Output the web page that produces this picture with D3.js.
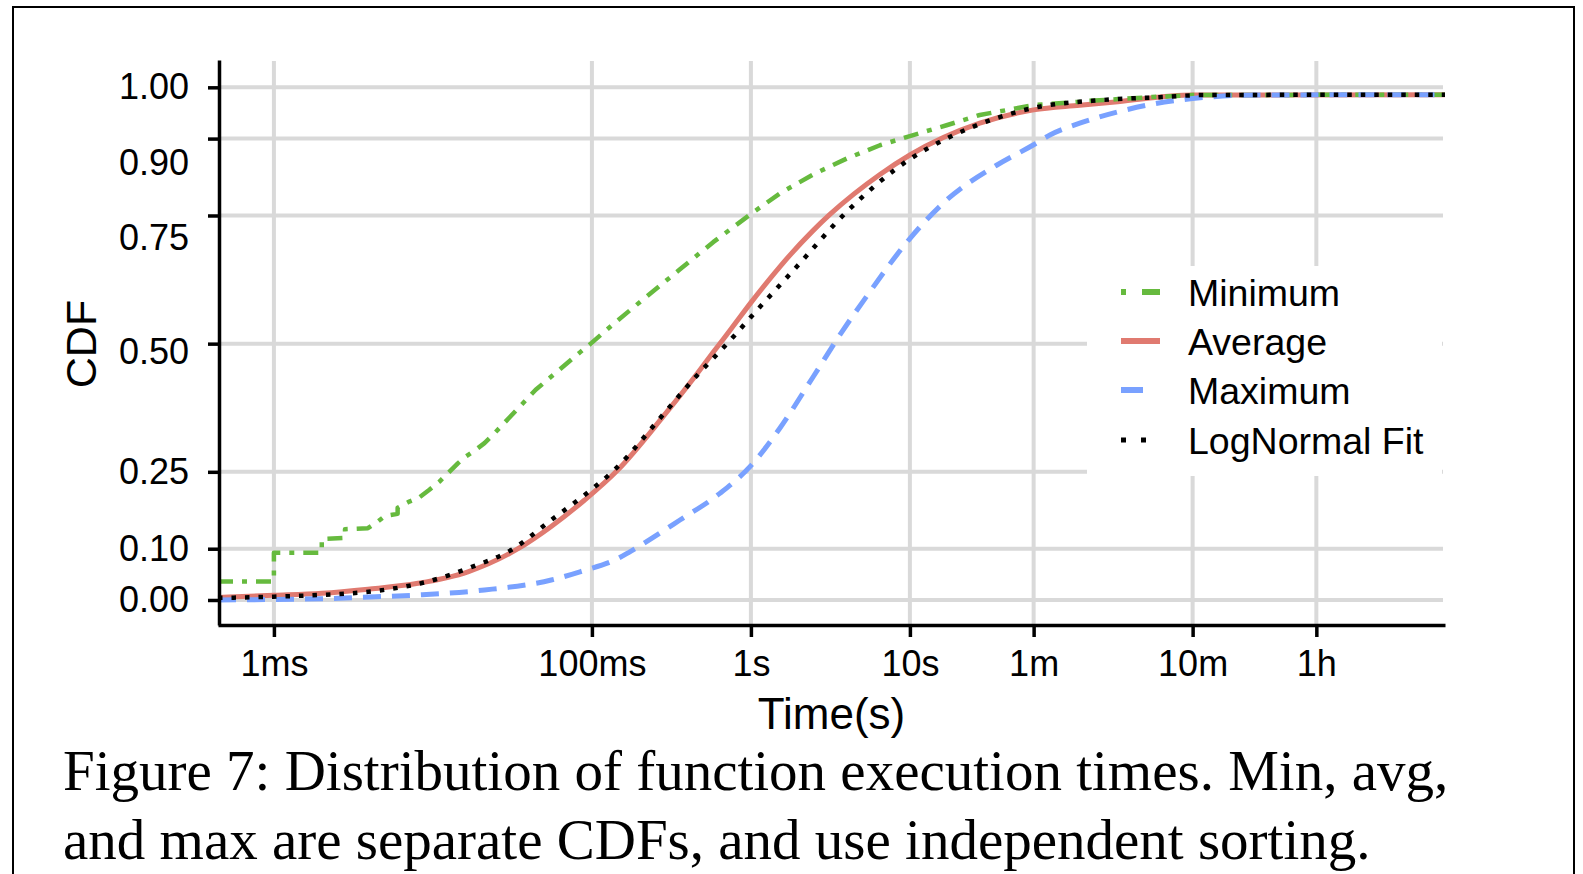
<!DOCTYPE html>
<html><head><meta charset="utf-8">
<script src="https://cdn.jsdelivr.net/npm/d3@7"></script>
<style>body{margin:0;background:#fff}svg{display:block}</style>
</head><body>
<svg id="chart" width="1583" height="874"></svg>
<script>
// ---------- data (time in seconds, CDF) ----------
const seriesNames = ["Minimum", "Average", "Maximum", "LogNormal Fit"];

const minimumCDF = [
  [0.000445,0.036],[0.001,0.036],[0.001,0.092],[0.002,0.092],[0.002,0.119],[0.0028,0.121],
  [0.0028,0.138],[0.0039,0.140],[0.0045,0.153],[0.0050,0.164],[0.0060,0.168],[0.0060,0.180],
  [0.0071,0.192],[0.0082,0.200],[0.0095,0.215],[0.011,0.231],[0.0124,0.247],[0.0144,0.267],
  [0.0161,0.280],[0.0186,0.293],[0.0211,0.306],[0.0242,0.324],[0.0443,0.410],[0.0841,0.483],
  [0.1,0.502],[0.136,0.538],[0.221,0.592],[0.358,0.645],[0.579,0.698],[1,0.753],
  [1.52,0.793],[2.46,0.830],[4.0,0.861],[6.48,0.887],[10,0.905],[17,0.926],[27.5,0.946],
  [60.5,0.9655],[117,0.972],[124,0.973],[333,0.981],[600,0.985],[23200,0.9856]
];

const averageCDF = [
  [0.000445,0.005],[0.001,0.009],[0.002,0.013],[0.0039,0.021],[0.00805,0.0325],[0.0166,0.055],
  [0.0343,0.100],[0.0552,0.143],[0.090,0.195],[0.146,0.254],[0.281,0.358],[0.455,0.440],
  [0.579,0.483],[0.756,0.530],[1,0.580],[1.52,0.650],[2.45,0.720],[3.14,0.752],[6.48,0.830],
  [10,0.868],[27.5,0.930],[60,0.956],[117,0.965],[203,0.972],[600,0.985],[23200,0.9856]
];

const maximumCDF = [
  [0.000445,0.0],[0.00235,0.003],[0.00305,0.0045],[0.00805,0.0098],[0.0211,0.0195],
  [0.0555,0.039],[0.0841,0.055],[0.146,0.081],[0.173,0.094],[0.358,0.156],[0.638,0.208],
  [1,0.262],[1.52,0.335],[2.46,0.435],[3.81,0.527],[5.09,0.583],[10,0.705],[17,0.780],
  [35.1,0.848],[60,0.888],[76,0.907],[117,0.930],[203,0.952],[333,0.967],[600,0.978],
  [1458,0.985],[23200,0.9856]
];

const lognormalCDF = [
  [0.000445,0.004],[0.001,0.0065],[0.002,0.010],[0.0045,0.018],[0.0093,0.036],[0.0174,0.064],
  [0.0311,0.0975],[0.0555,0.156],[0.090,0.205],[0.139,0.254],[0.281,0.362],[0.455,0.437],
  [0.638,0.485],[0.80,0.518],[1,0.552],[1.94,0.650],[4.0,0.757],[10,0.860],[17,0.900],
  [35.1,0.940],[60,0.960],[159,0.975],[384,0.981],[697,0.985],[23200,0.9856]
];

const xTickValues = [0.001, 0.1, 1, 10, 60, 600, 3600];
const xTickLabels = ["1ms", "100ms", "1s", "10s", "1m", "10m", "1h"];
const yTickValues = [0, 0.1, 0.25, 0.5, 0.75, 0.9, 1];
const yTickLabels = ["0.00", "0.10", "0.25", "0.50", "0.75", "0.90", "1.00"];
const xTitle = "Time(s)";
const yTitle = "CDF";
const captionLines = [
  "Figure 7: Distribution of function execution times. Min, avg,",
  "and max are separate CDFs, and use independent sorting."
];

// ---------- layout & style ----------
const panel = {left: 218, right: 1445, top: 60, bottom: 625};
const sans = "'Liberation Sans', Arial, Helvetica, sans-serif";
const serif = "'Liberation Serif', 'Times New Roman', serif";
const gridColor = "#d9d9d9";
const styles = {
  "Minimum":       {color: "#66ba3e", width: 4.5, dash: "15,9,5,9",  legendDash: "5,16,19,200"},
  "Average":       {color: "#e07a70", width: 5,   dash: null,         legendDash: null},
  "Maximum":       {color: "#79a1ff", width: 5,   dash: "18,11",      legendDash: "22,200"},
  "LogNormal Fit": {color: "#000000", width: 4.5, dash: "4.5,9",      legendDash: "5,15,5,200"}
};
// reference draws a few y labels slightly below their gridlines
const yLabelNudge = {0.9: 24, 0.75: 22, 0.5: 8};

const svg = d3.select("#chart");

const x = d3.scaleLog().domain([0.000445, 23200]).range([panel.left, panel.right]);
const y = d3.scaleLinear().domain([-0.0488, 1.0533]).range([panel.bottom, panel.top]);

// figure frame
svg.append("rect").attr("x", 13).attr("y", 7).attr("width", 1561).attr("height", 900)
  .attr("fill", "none").attr("stroke", "#000").attr("stroke-width", 2);

// grid
const grid = svg.append("g");
grid.selectAll("line.h").data(yTickValues).join("line")
  .attr("x1", panel.left).attr("x2", panel.right - 2)
  .attr("y1", d => y(d)).attr("y2", d => y(d))
  .attr("stroke", gridColor).attr("stroke-width", 4);
grid.selectAll("line.v").data(xTickValues).join("line")
  .attr("x1", d => x(d)).attr("x2", d => x(d))
  .attr("y1", panel.top + 1).attr("y2", panel.bottom)
  .attr("stroke", gridColor).attr("stroke-width", 4);

// legend background (covers grid)
const legend = svg.append("g");
legend.append("rect").attr("x", 1087).attr("y", 266).attr("width", 355).attr("height", 210).attr("fill", "#fff");

// lines
const line = d3.line().x(d => x(d[0])).y(d => y(d[1])).curve(d3.curveMonotoneX);
const stepLine = d3.line().x(d => x(d[0])).y(d => y(d[1]));
const drawOrder = [["Average", averageCDF, line], ["Minimum", minimumCDF, stepLine],
                   ["Maximum", maximumCDF, line], ["LogNormal Fit", lognormalCDF, line]];
const plot = svg.append("g");
drawOrder.forEach(([name, data, gen]) => {
  const s = styles[name];
  plot.append("path").datum(data).attr("d", gen)
    .attr("fill", "none").attr("stroke", s.color).attr("stroke-width", s.width)
    .attr("stroke-dasharray", s.dash).attr("stroke-linejoin", "round");
});

// axes
const yAxis = d3.axisLeft(y).tickValues(yTickValues)
  .tickFormat((d, i) => yTickLabels[i]).tickSize(11).tickSizeOuter(0).tickPadding(19);
const gy = svg.append("g").attr("transform", `translate(${panel.left + 1},0)`).call(yAxis);
gy.select(".domain").attr("stroke-width", 3.5);
gy.selectAll(".tick line").attr("stroke-width", 3.5);
gy.selectAll(".tick text").attr("font-family", sans).attr("font-size", 36).attr("fill", "#000")
  .attr("y", d => yLabelNudge[d] || 0);

const xAxis = d3.axisBottom(x).tickValues(xTickValues)
  .tickFormat((d, i) => xTickLabels[i]).tickSize(12).tickSizeOuter(0).tickPadding(13);
const gx = svg.append("g").attr("transform", `translate(0,${panel.bottom})`).call(xAxis);
gx.select(".domain").attr("stroke-width", 3.5);
gx.selectAll(".tick line").attr("stroke-width", 3.5);
gx.selectAll(".tick text").attr("font-family", sans).attr("font-size", 36).attr("fill", "#000");

// axis titles
svg.append("text").attr("x", (panel.left + panel.right) / 2).attr("y", 729)
  .attr("text-anchor", "middle").attr("font-family", sans).attr("font-size", 44).text(xTitle);
svg.append("text").attr("transform", "translate(96,344) rotate(-90)")
  .attr("text-anchor", "middle").attr("font-family", sans).attr("font-size", 43).text(yTitle);

// legend
const legendY = [292, 341, 390, 440];
seriesNames.forEach((name, i) => {
  const s = styles[name];
  legend.append("line").attr("x1", 1121).attr("x2", 1160)
    .attr("y1", legendY[i]).attr("y2", legendY[i])
    .attr("stroke", s.color).attr("stroke-width", name === "LogNormal Fit" ? 5 : 6)
    .attr("stroke-dasharray", s.legendDash);
  legend.append("text").attr("x", 1188).attr("y", legendY[i]).attr("dy", "0.36em")
    .attr("font-family", sans).attr("font-size", 37.5).attr("fill", "#000").text(name);
});

// caption
const captionY = [790, 859];
captionLines.forEach((t, i) => {
  svg.append("text").attr("x", 63).attr("y", captionY[i])
    .attr("font-family", serif).attr("font-size", 57).attr("fill", "#000").text(t);
});
</script>
</body></html>
